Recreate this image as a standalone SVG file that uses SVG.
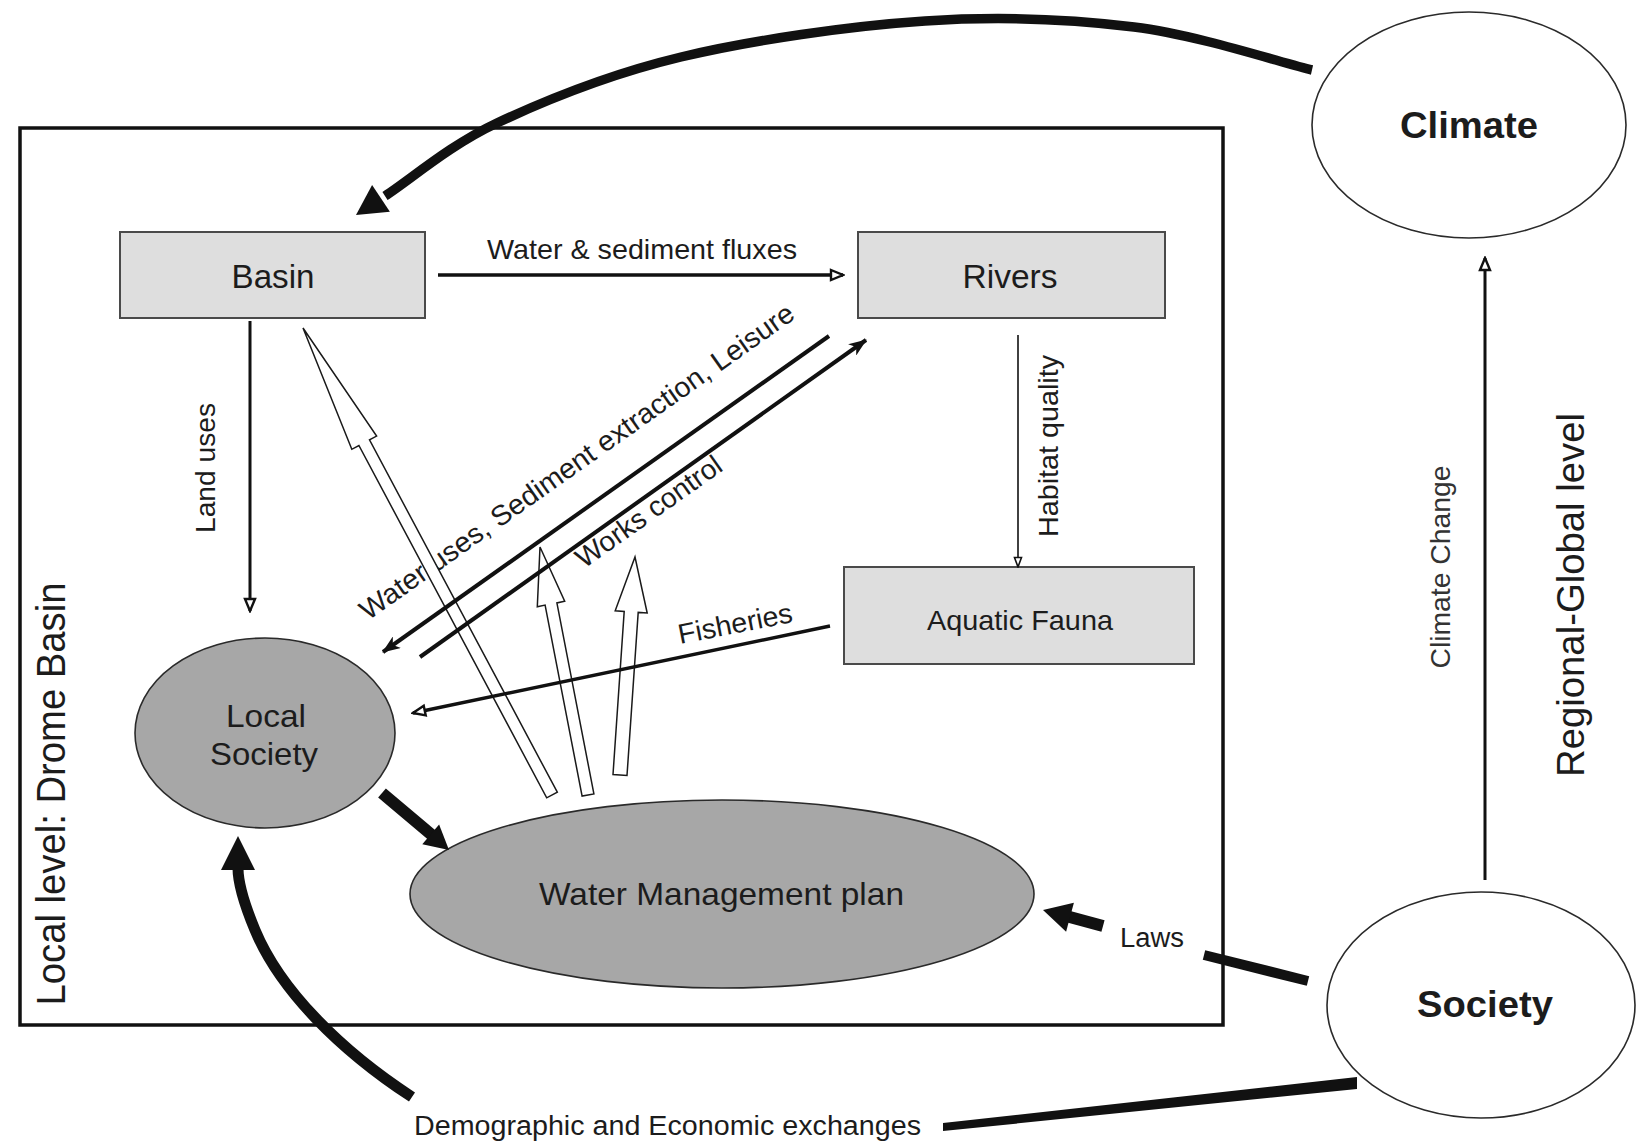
<svg xmlns="http://www.w3.org/2000/svg" width="1636" height="1143" viewBox="0 0 1636 1143">
  <style>
    text { font-family: "Liberation Sans", Arial, sans-serif; fill: #1c1c1c; }
    .box { fill: #dedede; stroke: #4a4a4a; stroke-width: 2; }
    .gray { fill: #a7a7a7; stroke: #2a2a2a; stroke-width: 1.6; }
    .open { fill: #ffffff; stroke: #2a2a2a; stroke-width: 1.6; }
    .node { font-size: 33px; }
    .lbl { font-size: 28px; }
    .big { font-size: 38px; }
    .bold { font-size: 36px; font-weight: bold; }
    .ln { fill: none; stroke: #111; }
    .hollow { fill: #ffffff; stroke: #1a1a1a; stroke-width: 1.5; stroke-linejoin: miter; }
    .solid { fill: #111; stroke: none; }
  </style>
  <defs>
    <marker id="ah" viewBox="0 0 16 14" markerWidth="16" markerHeight="14" refX="14" refY="7" orient="auto" markerUnits="userSpaceOnUse">
      <path d="M2,2 L14,7 L2,12 Z" fill="#fff" stroke="#111" stroke-width="2.4"/>
    </marker>
    <marker id="ahs" viewBox="0 0 12 10" markerWidth="12" markerHeight="10" refX="11" refY="5" orient="auto" markerUnits="userSpaceOnUse">
      <path d="M1.5,1.5 L11,5 L1.5,8.5 Z" fill="#fff" stroke="#111" stroke-width="1.6"/>
    </marker>
    <marker id="ahd" viewBox="0 0 18 14" markerWidth="18" markerHeight="14" refX="17" refY="7" orient="auto" markerUnits="userSpaceOnUse">
      <path d="M0,0 L18,7 L0,14 L5,7 Z" fill="#111"/>
    </marker>
  </defs>

  <rect width="1636" height="1143" fill="#ffffff"/>

  <!-- local level frame -->
  <g id="local-level">
    <rect x="20" y="128" width="1203" height="897" fill="none" stroke="#111" stroke-width="3.5"/>
    <text class="big" transform="translate(65,794) rotate(-90)" text-anchor="middle" textLength="423" lengthAdjust="spacingAndGlyphs" style="font-size:40px">Local level: Drome Basin</text>
  </g>

  <g id="regional-level">
    <text class="big" transform="translate(1584,595) rotate(-90)" text-anchor="middle" textLength="364" lengthAdjust="spacingAndGlyphs">Regional-Global level</text>
  </g>

  <!-- nodes -->
  <g id="basin">
    <rect class="box" x="120" y="232" width="305" height="86"/>
    <text class="node" x="273" y="288" text-anchor="middle" textLength="83" lengthAdjust="spacingAndGlyphs">Basin</text>
  </g>
  <g id="rivers">
    <rect class="box" x="858" y="232" width="307" height="86"/>
    <text class="node" x="1010" y="288" text-anchor="middle" textLength="95" lengthAdjust="spacingAndGlyphs">Rivers</text>
  </g>
  <g id="aquatic-fauna">
    <rect class="box" x="844" y="567" width="350" height="97"/>
    <text class="lbl" x="1020" y="630" text-anchor="middle" textLength="186" lengthAdjust="spacingAndGlyphs">Aquatic Fauna</text>
  </g>
  <g id="local-society">
    <ellipse class="gray" cx="265" cy="733" rx="130" ry="95"/>
    <text class="node" x="266" y="727" text-anchor="middle" textLength="80" lengthAdjust="spacingAndGlyphs" style="font-size:32px">Local</text>
    <text class="node" x="264" y="765" text-anchor="middle" textLength="108" lengthAdjust="spacingAndGlyphs" style="font-size:32px">Society</text>
  </g>
  <g id="water-management-plan">
    <ellipse class="gray" cx="722" cy="894" rx="312" ry="94"/>
    <text class="node" x="539" y="905" textLength="365" lengthAdjust="spacingAndGlyphs" style="font-size:32px">Water Management plan</text>
  </g>
  <g id="climate">
    <ellipse class="open" cx="1469" cy="125" rx="157" ry="113"/>
    <text class="bold" x="1469" y="138" text-anchor="middle" textLength="138" lengthAdjust="spacingAndGlyphs">Climate</text>
  </g>
  <g id="society">
    <ellipse class="open" cx="1481" cy="1005" rx="154" ry="113"/>
    <text class="bold" x="1485" y="1017" text-anchor="middle" textLength="136" lengthAdjust="spacingAndGlyphs">Society</text>
  </g>

  <!-- connectors -->
  <g id="connectors">
    <!-- labels on the diagonal links -->
    <text class="lbl" transform="translate(368,621) rotate(-35.3)" textLength="525" lengthAdjust="spacingAndGlyphs">Water uses, Sediment extraction, Leisure</text>
    <text class="lbl" transform="translate(584,569) rotate(-35.3)" textLength="172" lengthAdjust="spacingAndGlyphs">Works control</text>

    <!-- management actions (hollow arrows) -->
    <polygon class="hollow" points="557.3,792.2 369.5,439.9 376.6,436.1 303,328 351.8,449.3 358.9,445.5 546.7,797.8"/>
    <polygon class="hollow" points="593.9,793.9 556.9,602.9 564.7,601.3 540,547 537.3,606.7 545.1,605.1 582.1,796.1"/>
    <polygon class="hollow" points="627,775.5 638.2,612.4 647.2,613 635,557 615.2,610.8 624.2,611.4 613,774.5"/>

    <!-- Basin -> Rivers -->
    <path class="ln" d="M438,275 L843,275" stroke-width="3.5" marker-end="url(#ah)"/>
    <text class="lbl" x="487" y="259" textLength="310" lengthAdjust="spacingAndGlyphs">Water &amp; sediment fluxes</text>

    <!-- Basin -> Local Society -->
    <path class="ln" d="M250,321 L250,611" stroke-width="3" marker-end="url(#ah)"/>
    <text class="lbl" transform="translate(215,468) rotate(-90)" text-anchor="middle" textLength="130" lengthAdjust="spacingAndGlyphs">Land uses</text>

    <!-- Rivers -> Aquatic Fauna -->
    <path class="ln" d="M1018,335 L1018,567" stroke-width="1.6" marker-end="url(#ahs)"/>
    <text class="lbl" transform="translate(1058,446) rotate(-90)" text-anchor="middle" textLength="182" lengthAdjust="spacingAndGlyphs">Habitat quality</text>

    <!-- Rivers <-> Local Society -->
    <path class="ln" d="M829,336 L383,652" stroke-width="4" marker-end="url(#ahd)"/>
    <path class="ln" d="M420,657 L866,340" stroke-width="4" marker-end="url(#ahd)"/>

    <!-- Aquatic Fauna -> Local Society -->
    <path class="ln" d="M830,626 L413,713" stroke-width="3.5" marker-end="url(#ah)"/>
    <text class="lbl" transform="translate(680,644) rotate(-11)" textLength="116" lengthAdjust="spacingAndGlyphs">Fisheries</text>

    <!-- Local Society -> Water Management plan -->
    <path class="ln" d="M382,793 L433,836" stroke-width="12"/>
    <polygon class="solid" points="449,850 422.3,844.3 439.1,824.5"/>

    <!-- Climate -> Basin -->
    <path class="ln" d="M1312,70 C1282,63 1198.5,35 1134,27 C1069.5,19 1000.5,16 925,21 C849.5,26 752,40 681,57 C610,74 545,100.5 497,123 C449,145.5 410,180 385,196" stroke-width="9.5"/>
    <polygon class="solid" points="356,215 389.9,211.7 372.1,185.1"/>

    <!-- Society -> Climate -->
    <path class="ln" d="M1485,880 L1485,258" stroke-width="3" marker-end="url(#ah)"/>
    <text class="lbl" transform="translate(1450,567) rotate(-90)" text-anchor="middle" textLength="203" lengthAdjust="spacingAndGlyphs" style="fill:#333">Climate Change</text>

    <!-- Society -> Water Management plan (Laws) -->
    <path class="ln" d="M1204,955 L1308,981" stroke-width="10"/>
    <path class="ln" d="M1103,926 L1066,916" stroke-width="12"/>
    <polygon class="solid" points="1043,910 1073.9,902.7 1066.1,931.7"/>
    <text class="lbl" x="1120" y="947" textLength="64" lengthAdjust="spacingAndGlyphs" style="font-size:27px">Laws</text>

    <!-- Society -> Local Society (exchanges) -->
    <polygon class="solid" points="943,1123 1357,1077 1357,1089 943,1131"/>
    <text class="lbl" x="414" y="1135" textLength="507" lengthAdjust="spacingAndGlyphs" style="font-size:27px">Demographic and Economic exchanges</text>
    <path class="ln" d="M412,1097 C340,1050 280,990 255,930 C245,906 238,885 238,868" stroke-width="11"/>
    <polygon class="solid" points="238,836 221,870 255,870"/>
  </g>
</svg>
